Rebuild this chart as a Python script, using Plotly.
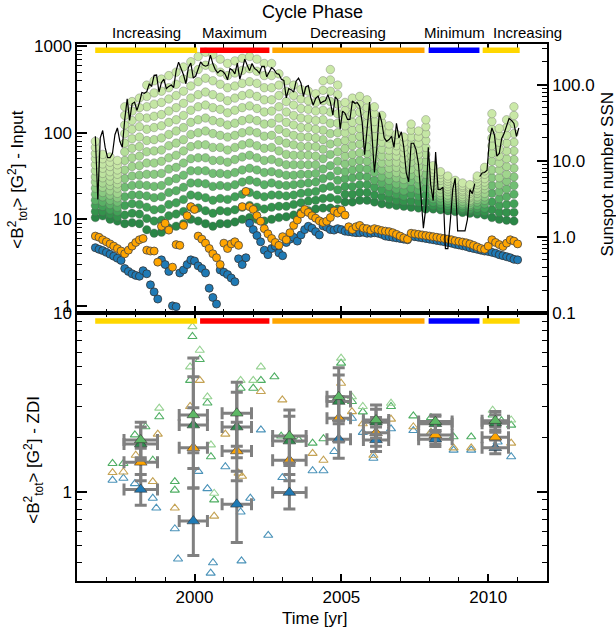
import plotly.graph_objects as go

# ---------------------------------------------------------------- data ----
# Cycle phases (decimal years)
phase_names = ["Increasing", "Maximum", "Decreasing", "Minimum", "Increasing"]
phase_start = [1996.62, 2000.19, 2002.65, 2007.97, 2009.81]
phase_end = [2000.09, 2002.55, 2007.83, 2009.70, 2011.07]
phase_colors = ["#ffd700", "#ff0000", "#ffa500", "#0000ff", "#ffd700"]

# Monthly sunspot number, Aug 1996 .. Jan 2011 (None = zero, not drawn on log axis)
ssn_first_year, ssn_first_month = 1996, 8
ssn = [21, 3.1, 20, 25, 15,
       11, 11, 12.5, 22, 27, 18, 15, 35, 65, 34, 56, 59,
       46, 58, 79, 77, 81, 102, 96, 133, 134, 80, 107, 118,
       89, 95, 99, 92, 153, 198, 163, 135, 103, 168, 192, 122,
       130, 163, 199, 181, 175, 180, 245, 188, 158, 143, 154, 150,
       138, 116, 163, 155, 139, 193, 118, 153, 217, 181, 153, 190,
       164, 155, 142, 174, 174, 127, 143, 168, 158, 140, 137, 118,
       114, 67, 89, 86, 80, 111, 122, 105, 70, 94, 97, 67,
       54, 66, 71, 57, 60, 62, 74, 59, 40, 69, 63, 26,
       45, 42, 35, 35, 61, 57, 58, 52, 32, 12, 26, 59,
       22, 7, 15, 43, 32, 20, 18, 19, 21, 15, 31, 20,
       24, 15, 7, 5.3, 17, 17, 14, 9, 3.5, 1.3, 2.4, 15,
       4.8, 3, 13, 4.2, 4.2, 4.5, 0.7, 0.7, 1.6, 4.2, 5.9, 1.2,
       1.2, 1.2, 1.2, 1.7, 4.2, 3.7, 5, None, 6.2, 6.9, 7.0, 7.5,
       19, 27, 22, 11.5, 12.5, 19.6, 23, 28, 36, 34, 31, 21,
       27]
t_ssn = [ssn_first_year + (ssn_first_month - 0.5 + i) / 12.0 for i in range(len(ssn))]

# Input-map sampling times (decimal years)
t_top = [1996.625, 1996.75, 1996.875,
         1997.0, 1997.125, 1997.25, 1997.375, 1997.5, 1997.625, 1997.75, 1997.875,
         1998.0, 1998.125, 1998.25, 1998.375, 1998.5, 1998.625, 1998.75, 1998.875,
         1999.0, 1999.125, 1999.25, 1999.375, 1999.5, 1999.625, 1999.75, 1999.875,
         2000.0, 2000.125, 2000.25, 2000.375, 2000.5, 2000.625, 2000.75, 2000.875,
         2001.0, 2001.125, 2001.25, 2001.375, 2001.5, 2001.625, 2001.75, 2001.875,
         2002.0, 2002.125, 2002.25, 2002.375, 2002.5, 2002.625, 2002.75, 2002.875,
         2003.0, 2003.125, 2003.25, 2003.375, 2003.5, 2003.625, 2003.75, 2003.875,
         2004.0, 2004.125, 2004.25, 2004.375, 2004.5, 2004.625, 2004.75, 2004.875,
         2005.0, 2005.125, 2005.25, 2005.375, 2005.5, 2005.625, 2005.75, 2005.875,
         2006.0, 2006.125, 2006.25, 2006.375, 2006.5, 2006.625, 2006.75, 2006.875,
         2007.0, 2007.125, 2007.25, 2007.375, 2007.5, 2007.625, 2007.75, 2007.875,
         2008.0, 2008.125, 2008.25, 2008.375, 2008.5, 2008.625, 2008.75, 2008.875,
         2009.0, 2009.125, 2009.25, 2009.375, 2009.5, 2009.625, 2009.75, 2009.875,
         2010.0, 2010.125, 2010.25, 2010.375, 2010.5, 2010.625, 2010.75, 2010.875,
         2011.0]

orange_in = [6.4, 6.2, 5.8, 5.5, 5.2, 4.9, 4.6, 4.3,
             4.0, 4.4, 4.9, 5.4, 5.8, 6.0, 4.4, 4.3,
             4.3, 3.2, 8.3, 9.0, 7.5, 2.8, 5.1, 5.0,
             8.5, 11, 14, 13, 6.4, 5.9, 5.3, 4.6,
             4.0, 3.6, 3.0, 5.3, 4.6, 5.2, 5.5, 5.0,
             14, 21, 14, 13, 11, 9.5, 7.8, 6.8,
             6.0, 5.4, 5.0, 6.3, 5.8, 7.0, 8.5, 9.8,
             11.5, 13, 12, 11, 10.3, 9.6, 9.2, 9.5,
             10.5, 12.5, 11.8, 12.8, 11.2, 8.2, 7.6, 8.2,
             8.5, 7.9, 7.8, 7.5, 7.8, 7.6, 7.4, 7.3,
             7.2, 7.0, 6.7, 6.4, 6.1, 5.9, 6.9, 6.8,
             6.7, 6.6, 6.5, 6.4, 6.3, 6.2, 6.1, 6.0,
             5.9, 5.8, 5.65, 5.55, 5.45, 5.35, 5.2, 5.0,
             4.8, 4.6, 4.5, 4.9, 5.8, 5.4, 5.1, 4.85,
             5.3, 5.8, 5.6, 5.2]

blue_in = [4.7, 4.5, 4.35, 4.15, 3.95, 3.75, 3.55, 3.35,
           2.7, 2.5, 2.35, 2.25, 2.2, 2.55, 2.35, 1.75,
           1.45, 1.2, 3.4, 3.0, 2.5, 1.0, 0.98, 2.4,
           2.6, 3.0, 3.4, 3.3, 2.9, 2.7, 2.4, 1.6,
           1.25, 1.05, 2.6, 2.45, 2.3, 2.1, 1.9, 3.5,
           3.0, 3.6, 9.0, 7.6, 6.5, 5.5, 4.4, 3.9,
           4.6, 4.9, 4.1, 3.8, 5.4, 5.9, 6.2, 5.6,
           6.6, 7.6, 8.3, 7.9, 7.2, 6.6, 8.4, 8.1,
           7.6, 7.5, 7.8, 7.6, 7.3, 7.2, 7.1, 7.0,
           7.0, 7.1, 6.9, 6.9, 7.0, 6.9, 6.7, 6.4,
           6.3, 6.2, 6.1, 6.0, 5.9, 5.8, 6.4, 6.3,
           6.2, 6.1, 6.0, 5.9, 5.8, 5.7, 5.6, 5.5,
           5.4, 5.3, 5.15, 5.05, 4.95, 4.85, 4.7, 4.6,
           4.5, 4.4, 4.3, 4.25, 4.15, 4.05, 3.9, 3.8,
           3.7, 3.6, 3.45, 3.4]

# Green model stack: one row per sampling time (every other t_top entry),
# 14 members per column ordered dark (lowest) -> light (highest), log10 <B^2>
green_t = t_top[::2]
green_log10 = [
    [1.02, 1.09, 1.16, 1.22, 1.29, 1.36, 1.43, 1.49, 1.56, 1.63, 1.70, 1.76, 1.83, 1.90],
    [1.04, 1.09, 1.15, 1.20, 1.26, 1.31, 1.37, 1.42, 1.48, 1.53, 1.59, 1.64, 1.70, 1.75],
    [1.00, 1.06, 1.11, 1.17, 1.22, 1.28, 1.33, 1.39, 1.44, 1.50, 1.55, 1.61, 1.66, 1.72],
    [0.98, 1.03, 1.09, 1.14, 1.20, 1.25, 1.30, 1.36, 1.41, 1.46, 1.52, 1.57, 1.63, 1.68],
    [0.95, 1.05, 1.16, 1.26, 1.37, 1.47, 1.57, 1.68, 1.78, 1.88, 1.99, 2.09, 2.20, 2.30],
    [0.96, 1.07, 1.18, 1.28, 1.39, 1.50, 1.61, 1.71, 1.82, 1.93, 2.04, 2.14, 2.25, 2.36],
    [0.95, 1.06, 1.17, 1.28, 1.40, 1.51, 1.62, 1.73, 1.84, 1.95, 2.07, 2.18, 2.29, 2.40],
    [0.88, 1.01, 1.14, 1.27, 1.39, 1.52, 1.65, 1.78, 1.91, 2.04, 2.17, 2.30, 2.42, 2.55],
    [0.84, 0.98, 1.11, 1.25, 1.38, 1.52, 1.65, 1.79, 1.92, 2.06, 2.19, 2.33, 2.46, 2.60],
    [0.85, 0.99, 1.12, 1.26, 1.39, 1.53, 1.67, 1.80, 1.94, 2.08, 2.21, 2.35, 2.48, 2.62],
    [0.90, 1.04, 1.17, 1.31, 1.44, 1.58, 1.71, 1.85, 1.98, 2.12, 2.25, 2.39, 2.52, 2.66],
    [0.92, 1.06, 1.19, 1.33, 1.47, 1.60, 1.74, 1.88, 2.02, 2.15, 2.29, 2.43, 2.56, 2.70],
    [0.95, 1.09, 1.23, 1.37, 1.51, 1.65, 1.79, 1.92, 2.06, 2.20, 2.34, 2.48, 2.62, 2.76],
    [1.00, 1.14, 1.28, 1.42, 1.56, 1.70, 1.84, 1.98, 2.12, 2.26, 2.40, 2.54, 2.68, 2.82],
    [0.98, 1.13, 1.27, 1.42, 1.56, 1.71, 1.86, 2.00, 2.15, 2.30, 2.44, 2.59, 2.73, 2.88],
    [0.95, 1.10, 1.25, 1.41, 1.56, 1.71, 1.86, 2.02, 2.17, 2.32, 2.47, 2.63, 2.78, 2.93],
    [0.92, 1.07, 1.22, 1.38, 1.53, 1.68, 1.83, 1.99, 2.14, 2.29, 2.44, 2.60, 2.75, 2.90],
    [0.95, 1.10, 1.24, 1.39, 1.53, 1.68, 1.83, 1.97, 2.12, 2.27, 2.41, 2.56, 2.70, 2.85],
    [0.95, 1.09, 1.23, 1.38, 1.52, 1.66, 1.80, 1.95, 2.09, 2.23, 2.37, 2.52, 2.66, 2.80],
    [0.97, 1.11, 1.26, 1.40, 1.54, 1.69, 1.83, 1.97, 2.11, 2.26, 2.40, 2.54, 2.69, 2.83],
    [1.00, 1.14, 1.29, 1.43, 1.57, 1.72, 1.86, 2.00, 2.14, 2.29, 2.43, 2.57, 2.72, 2.86],
    [1.02, 1.16, 1.31, 1.45, 1.59, 1.74, 1.88, 2.02, 2.16, 2.31, 2.45, 2.59, 2.74, 2.88],
    [1.00, 1.14, 1.28, 1.43, 1.57, 1.71, 1.85, 2.00, 2.14, 2.28, 2.42, 2.57, 2.71, 2.85],
    [0.98, 1.12, 1.26, 1.40, 1.54, 1.68, 1.82, 1.96, 2.10, 2.24, 2.38, 2.52, 2.66, 2.80],
    [1.00, 1.14, 1.28, 1.42, 1.55, 1.69, 1.83, 1.97, 2.11, 2.25, 2.38, 2.52, 2.66, 2.80],
    [1.02, 1.15, 1.28, 1.40, 1.53, 1.66, 1.79, 1.91, 2.04, 2.17, 2.30, 2.43, 2.55, 2.68],
    [1.03, 1.15, 1.27, 1.39, 1.51, 1.63, 1.75, 1.88, 2.00, 2.12, 2.24, 2.36, 2.48, 2.60],
    [1.05, 1.17, 1.28, 1.40, 1.51, 1.63, 1.74, 1.86, 1.97, 2.09, 2.20, 2.32, 2.43, 2.55],
    [1.08, 1.19, 1.30, 1.41, 1.52, 1.63, 1.74, 1.84, 1.95, 2.06, 2.17, 2.28, 2.39, 2.50],
    [1.10, 1.21, 1.31, 1.42, 1.52, 1.63, 1.74, 1.84, 1.95, 2.06, 2.16, 2.27, 2.37, 2.48],
    [1.12, 1.22, 1.32, 1.43, 1.53, 1.63, 1.73, 1.84, 1.94, 2.04, 2.14, 2.25, 2.35, 2.45],
    [1.13, 1.24, 1.36, 1.47, 1.58, 1.70, 1.81, 1.92, 2.03, 2.15, 2.26, 2.37, 2.49, 2.60],
    [1.13, 1.25, 1.38, 1.50, 1.62, 1.75, 1.87, 1.99, 2.11, 2.24, 2.36, 2.48, 2.61, 2.73],
    [1.12, 1.23, 1.34, 1.45, 1.56, 1.67, 1.78, 1.89, 2.00, 2.11, 2.22, 2.33, 2.44, 2.55],
    [1.20, 1.29, 1.38, 1.47, 1.55, 1.64, 1.73, 1.82, 1.91, 2.00, 2.08, 2.17, 2.26, 2.35],
    [1.20, 1.29, 1.38, 1.48, 1.57, 1.66, 1.75, 1.85, 1.94, 2.03, 2.12, 2.22, 2.31, 2.40],
    [1.22, 1.31, 1.40, 1.50, 1.59, 1.68, 1.77, 1.87, 1.96, 2.05, 2.14, 2.24, 2.33, 2.42],
    [1.22, 1.31, 1.40, 1.49, 1.58, 1.67, 1.76, 1.84, 1.93, 2.02, 2.11, 2.20, 2.29, 2.38],
    [1.20, 1.28, 1.37, 1.45, 1.54, 1.62, 1.71, 1.79, 1.88, 1.96, 2.05, 2.13, 2.22, 2.30],
    [1.18, 1.26, 1.34, 1.42, 1.49, 1.57, 1.65, 1.73, 1.81, 1.89, 1.96, 2.04, 2.12, 2.20],
    [1.17, 1.24, 1.31, 1.38, 1.45, 1.52, 1.59, 1.66, 1.73, 1.80, 1.87, 1.94, 2.01, 2.08],
    [1.16, 1.22, 1.29, 1.35, 1.41, 1.48, 1.54, 1.60, 1.66, 1.73, 1.79, 1.85, 1.92, 1.98],
    [1.15, 1.21, 1.27, 1.33, 1.40, 1.46, 1.52, 1.58, 1.64, 1.70, 1.77, 1.83, 1.89, 1.95],
    [1.14, 1.21, 1.29, 1.36, 1.44, 1.51, 1.58, 1.66, 1.73, 1.80, 1.88, 1.95, 2.03, 2.10],
    [1.13, 1.20, 1.27, 1.34, 1.40, 1.47, 1.54, 1.61, 1.68, 1.75, 1.81, 1.88, 1.95, 2.02],
    [1.12, 1.20, 1.28, 1.36, 1.44, 1.52, 1.60, 1.67, 1.75, 1.83, 1.91, 1.99, 2.07, 2.15],
    [1.12, 1.16, 1.20, 1.24, 1.27, 1.31, 1.35, 1.39, 1.43, 1.47, 1.51, 1.54, 1.58, 1.62],
    [1.11, 1.14, 1.18, 1.21, 1.25, 1.28, 1.31, 1.35, 1.38, 1.41, 1.45, 1.48, 1.52, 1.55],
    [1.10, 1.13, 1.16, 1.19, 1.22, 1.25, 1.28, 1.32, 1.35, 1.38, 1.41, 1.44, 1.47, 1.50],
    [1.09, 1.12, 1.15, 1.17, 1.20, 1.23, 1.26, 1.28, 1.31, 1.34, 1.37, 1.39, 1.42, 1.45],
    [1.08, 1.11, 1.13, 1.16, 1.18, 1.21, 1.24, 1.26, 1.29, 1.32, 1.34, 1.37, 1.39, 1.42],
    [1.07, 1.10, 1.12, 1.15, 1.17, 1.20, 1.22, 1.25, 1.27, 1.30, 1.32, 1.35, 1.37, 1.40],
    [1.06, 1.09, 1.13, 1.16, 1.20, 1.23, 1.26, 1.30, 1.33, 1.36, 1.40, 1.43, 1.47, 1.50],
    [1.05, 1.09, 1.13, 1.18, 1.22, 1.26, 1.30, 1.35, 1.39, 1.43, 1.47, 1.52, 1.56, 1.60],
    [1.02, 1.11, 1.20, 1.30, 1.39, 1.48, 1.57, 1.67, 1.76, 1.85, 1.94, 2.04, 2.13, 2.22],
    [1.00, 1.08, 1.16, 1.24, 1.32, 1.40, 1.48, 1.57, 1.65, 1.73, 1.81, 1.89, 1.97, 2.05],
    [0.99, 1.08, 1.17, 1.26, 1.35, 1.44, 1.52, 1.61, 1.70, 1.79, 1.88, 1.97, 2.06, 2.15],
    [0.98, 1.08, 1.18, 1.29, 1.39, 1.49, 1.59, 1.69, 1.79, 1.89, 1.99, 2.10, 2.20, 2.30],
]

# ZDI reconstructions (bottom panel): individual maps (open triangles)
open_lgreen_t = [1998.8, 1999.85, 1999.93, 2000.18, 2000.44, 2000.56, 2000.67, 2001.57,
                 2002.0, 2002.26, 2004.99, 2005.36, 2005.73, 2006.69, 2010.15, 2010.78]
open_lgreen_v = [2.94, 5.0, 8.4, 6.2, 3.4, 1.83, 0.98, 4.2, 4.2, 5.0, 5.6, 3.4, 3.0, 3.13, 2.86, 2.52]
open_green_t = [1997.21, 1997.58, 1997.97, 1998.33, 1998.58, 1998.8, 1999.33, 1999.33, 1999.85,
                1999.93, 2000.18, 2000.44, 2000.56, 2000.67, 2001.57, 2002.0, 2002.26, 2002.72,
                2002.95, 2003.55, 2004.02, 2004.39, 2004.99, 2005.36, 2005.73, 2006.69, 2007.45,
                2008.05, 2008.82, 2009.42, 2010.15, 2010.45, 2010.78]
open_green_v = [1.44, 1.44, 2.08, 2.31, 1.5, 2.63, 1.14, 1.02, 4.2, 7.4, 5.5, 3.14, 1.57, 0.9,
                3.8, 3.8, 4.2, 4.4, 2.05, 1.95, 1.87, 1.98, 5.25, 3.2, 2.8, 3.0, 2.66, 2.6, 2.03,
                2.03, 2.69, 2.5, 2.36]
open_tan_t = [1997.21, 1997.58, 1998.0, 1998.58, 1998.75, 1999.33, 1999.85, 2000.18, 2000.67,
              2001.05, 2001.5, 2001.62, 2002.26, 2002.99, 2004.02, 2004.39, 2004.99, 2005.36,
              2005.73, 2006.09, 2006.69, 2007.45, 2008.05, 2008.82, 2009.42, 2010.78]
open_tan_v = [1.28, 1.29, 1.6, 1.14, 2.1, 0.81, 3.0, 4.2, 0.73, 2.1, 1.27, 1.22, 3.64, 3.27,
              1.64, 1.5, 4.05, 2.81, 2.4, 1.6, 2.55, 2.31, 2.15, 1.76, 1.76, 1.87]
open_blue_t = [1997.21, 1997.58, 1997.97, 1998.58, 1998.7, 1999.33, 1999.44, 2000.13, 2000.44,
               2000.63, 2000.55, 2001.05, 2001.57, 2001.6, 2001.9, 2002.26, 2002.51, 2002.99,
               2004.02, 2004.39, 2004.76, 2005.36, 2005.73, 2006.09, 2006.69, 2007.45, 2008.05,
               2008.82, 2009.42, 2010.32, 2010.78]
open_blue_v = [1.16, 1.19, 1.11, 0.92, 0.81, 0.62, 0.42, 1.3, 1.04, 0.40, 0.35, 1.38, 0.77,
               0.41, 0.92, 2.22, 0.57, 1.2, 1.31, 1.31, 1.68, 2.58, 2.15, 1.54, 2.25, 2.2, 2.15,
               1.71, 1.71, 1.9, 1.57]

# ZDI epoch means (filled triangles) with error ranges
epoch_t = [1998.17, 1999.96, 2001.44, 2003.23, 2004.91, 2006.18, 2008.2, 2010.24]
epoch_xerr = [0.57, 0.48, 0.5, 0.57, 0.4, 0.43, 0.57, 0.45]
zdi_blue = [1.03, 0.685, 0.85, 0.99, 1.97, 1.95, 1.97, 1.76]
zdi_blue_lo = [0.84, 0.44, 0.52, 0.8, 1.54, 1.68, 1.79, 1.63]
zdi_blue_hi = [1.25, 1.05, 1.3, 1.25, 2.5, 2.3, 2.2, 1.95]
zdi_orange = [1.46, 1.76, 1.69, 1.5, 2.58, 2.14, 2.08, 2.02]
zdi_orange_lo = [1.15, 1.05, 1.15, 1.15, 1.9, 1.8, 1.85, 1.75]
zdi_orange_hi = [1.75, 2.95, 2.45, 1.95, 3.4, 2.6, 2.4, 2.3]
zdi_dgreen = [1.85, 2.36, 2.3, 1.92, 3.2, 2.45, 2.4, 2.42]
zdi_dgreen_lo = [1.5, 1.35, 1.55, 1.4, 2.4, 2.0, 2.15, 2.15]
zdi_dgreen_hi = [2.3, 4.4, 3.6, 2.65, 4.5, 2.9, 2.65, 2.7]
zdi_green = [1.95, 2.69, 2.75, 2.05, 3.4, 2.52, 2.47, 2.5]
zdi_green_lo = [1.55, 1.65, 1.8, 1.45, 2.5, 2.1, 2.2, 2.2]
zdi_green_hi = [2.45, 5.6, 4.1, 2.87, 4.95, 3.06, 2.69, 2.81]

# -------------------------------------------------------------- figure ----
FONT = "Liberation Sans, Arial, Helvetica, sans-serif"
fig = go.Figure()

# green stack: drawn member by member, darkest first
gx, gy, gc = [], [], []
n_members = len(green_log10[0])
for m in range(n_members):
    for t, col in zip(green_t, green_log10):
        gx.append(t)
        gy.append(10 ** col[m])
        gc.append(m)
fig.add_trace(go.Scatter(
    x=gx, y=gy, xaxis="x2", yaxis="y", mode="markers", hoverinfo="skip",
    marker=dict(size=8.5, color=gc, cmin=0, cmax=n_members - 1,
                colorscale=[[0, "#2a8646"], [0.12, "#389a50"], [0.26, "#62b66b"],
                            [0.45, "#9fd48c"], [0.7, "#bee3a0"], [1, "#cbe9a8"]],
                line=dict(width=0.6, color="rgba(90,90,90,0.55)"))))

fig.add_trace(go.Scatter(
    x=t_top, y=blue_in, xaxis="x2", yaxis="y", mode="markers",
    marker=dict(size=8, color="#1f7ab5", line=dict(width=0.8, color="#333333"))))
fig.add_trace(go.Scatter(
    x=t_top, y=orange_in, xaxis="x2", yaxis="y", mode="markers",
    marker=dict(size=8, color="#ffa500", line=dict(width=0.8, color="#444444"))))

fig.add_trace(go.Scatter(
    x=t_ssn, y=ssn, xaxis="x2", yaxis="y2", mode="lines", connectgaps=False,
    line=dict(color="black", width=1.2)))

# bottom panel: individual maps
for tt, vv, col in [(open_blue_t, open_blue_v, "#4b93b9"),
                    (open_tan_t, open_tan_v, "#c4a253"),
                    (open_green_t, open_green_v, "#4fae63"),
                    (open_lgreen_t, open_lgreen_v, "#97d293")]:
    fig.add_trace(go.Scatter(
        x=tt, y=vv, xaxis="x", yaxis="y3", mode="markers",
        marker=dict(symbol="triangle-up-open", size=8, color=col, line=dict(width=1.1))))

# bottom panel: epoch means with error bars
for vals, lo, hi, col in [(zdi_blue, zdi_blue_lo, zdi_blue_hi, "#1f7ab5"),
                          (zdi_orange, zdi_orange_lo, zdi_orange_hi, "#ffa500"),
                          (zdi_dgreen, zdi_dgreen_lo, zdi_dgreen_hi, "#2e8b4e"),
                          (zdi_green, zdi_green_lo, zdi_green_hi, "#5db865")]:
    fig.add_trace(go.Scatter(
        x=epoch_t, y=vals, xaxis="x", yaxis="y3", mode="markers",
        error_y=dict(type="data", symmetric=False,
                     array=[h - v for h, v in zip(hi, vals)],
                     arrayminus=[v - l for l, v in zip(lo, vals)],
                     color="#808080", thickness=3, width=6),
        error_x=dict(type="data", array=epoch_xerr, color="#808080", thickness=3, width=6),
        marker=dict(symbol="triangle-up", size=11, color=col,
                    line=dict(width=0.6, color="#333333"))))

# phase bars in both panels
shapes = []
for s, e, c in zip(phase_start, phase_end, phase_colors):
    shapes.append(dict(type="rect", xref="x2", yref="y domain", x0=s, x1=e,
                       y0=0.9665, y1=0.9874, fillcolor=c, line=dict(width=0), layer="above"))
    shapes.append(dict(type="rect", xref="x", yref="y3 domain", x0=s, x1=e,
                       y0=0.960, y1=0.981, fillcolor=c, line=dict(width=0), layer="above"))

annotations = []
for i, (name, s, e) in enumerate(zip(phase_names, phase_start, phase_end)):
    if i == len(phase_names) - 1:
        annotations.append(dict(text=name, x=s, xref="x", y=1.021, yref="paper",
                                xanchor="left", yanchor="middle", xshift=8, showarrow=False,
                                font=dict(size=15)))
    else:
        annotations.append(dict(text=name, x=(s + e) / 2, xref="x", y=1.021, yref="paper",
                                xanchor="center", yanchor="middle", showarrow=False,
                                font=dict(size=15)))
annotations += [
    dict(text="Cycle Phase", x=0.501, y=1.0593, xref="paper", yref="paper",
         showarrow=False, font=dict(size=18), xanchor="center", yanchor="middle"),
    dict(text="&lt;B<sup>2</sup><sub>tot</sub>&gt; [G<sup>2</sup>] - Input", x=-0.126, y=0.747,
         xref="paper", yref="paper", textangle=-90, showarrow=False, font=dict(size=17),
         xanchor="center", yanchor="middle"),
    dict(text="&lt;B<sup>2</sup><sub>tot</sub>&gt; [G<sup>2</sup>] - ZDI", x=-0.092, y=0.2255,
         xref="paper", yref="paper", textangle=-90, showarrow=False, font=dict(size=17),
         xanchor="center", yanchor="middle"),
    dict(text="Sunspot number SSN", x=1.129, y=0.7565, xref="paper", yref="paper",
         textangle=-90, showarrow=False, font=dict(size=17), xanchor="center", yanchor="middle"),
    dict(text="Time [yr]", x=0.505, y=-0.069, xref="paper", yref="paper",
         showarrow=False, font=dict(size=17), xanchor="center", yanchor="middle"),
]

years_minor = list(range(1997, 2012))
xcommon = dict(range=[1996, 2012], showline=True, linecolor="black", linewidth=1.5,
               ticks="inside", ticklen=7, tickwidth=1.5, tickcolor="black",
               tickvals=[2000, 2005, 2010], mirror="ticks", showgrid=False, zeroline=False,
               minor=dict(tickvals=years_minor, ticks="inside", ticklen=4, tickwidth=1.2,
                          tickcolor="black", showgrid=False))
dec = [2, 3, 4, 5, 6, 7, 8, 9]
ycommon = dict(type="log", showline=True, linecolor="black", linewidth=1.5, ticks="inside",
               ticklen=10, tickwidth=1.5, tickcolor="black", showgrid=False, zeroline=False)

fig.update_layout(
    width=616, height=633,
    margin=dict(l=77.3, r=68.7, t=44.3, b=52, pad=0),
    plot_bgcolor="white", paper_bgcolor="white", showlegend=False,
    font=dict(family=FONT, size=17, color="black"),
    xaxis=dict(**xcommon, anchor="y3", domain=[0, 1], showticklabels=True,
               tickfont=dict(size=17)),
    xaxis2=dict(**xcommon, anchor="y", domain=[0, 1], matches="x", showticklabels=False),
    yaxis=dict(**ycommon, domain=[0.4988, 1], anchor="x2", range=[-0.084, 3.025],
               tickvals=[1, 10, 100, 1000], ticktext=["1", "10", "100", "1000"],
               minor=dict(tickvals=dec + [d * 10 for d in dec] + [d * 100 for d in dec],
                          ticks="inside", ticklen=5, tickwidth=1.2, tickcolor="black")),
    yaxis2=dict(**ycommon, overlaying="y", side="right", anchor="x2", range=[-1.003, 2.535],
                tickvals=[0.1, 1, 10, 100], ticktext=["0.1", "1.0", "10.0", "100.0"],
                minor=dict(tickvals=[d / 10 for d in dec] + dec + [d * 10 for d in dec] + [200, 300],
                           ticks="inside", ticklen=5, tickwidth=1.2, tickcolor="black")),
    yaxis3=dict(**ycommon, domain=[0, 0.4988], anchor="x", range=[-0.5, 1], mirror="ticks",
                tickvals=[1, 10], ticktext=["1", "10"],
                minor=dict(tickvals=[0.4, 0.5, 0.6, 0.7, 0.8, 0.9] + dec,
                           ticks="inside", ticklen=5, tickwidth=1.2, tickcolor="black")),
    shapes=shapes,
    annotations=annotations,
)

fig.write_html("out.html",
               config={"displayModeBar": False},
               post_script="document.body.style.margin='0px';document.body.style.padding='0px';")
